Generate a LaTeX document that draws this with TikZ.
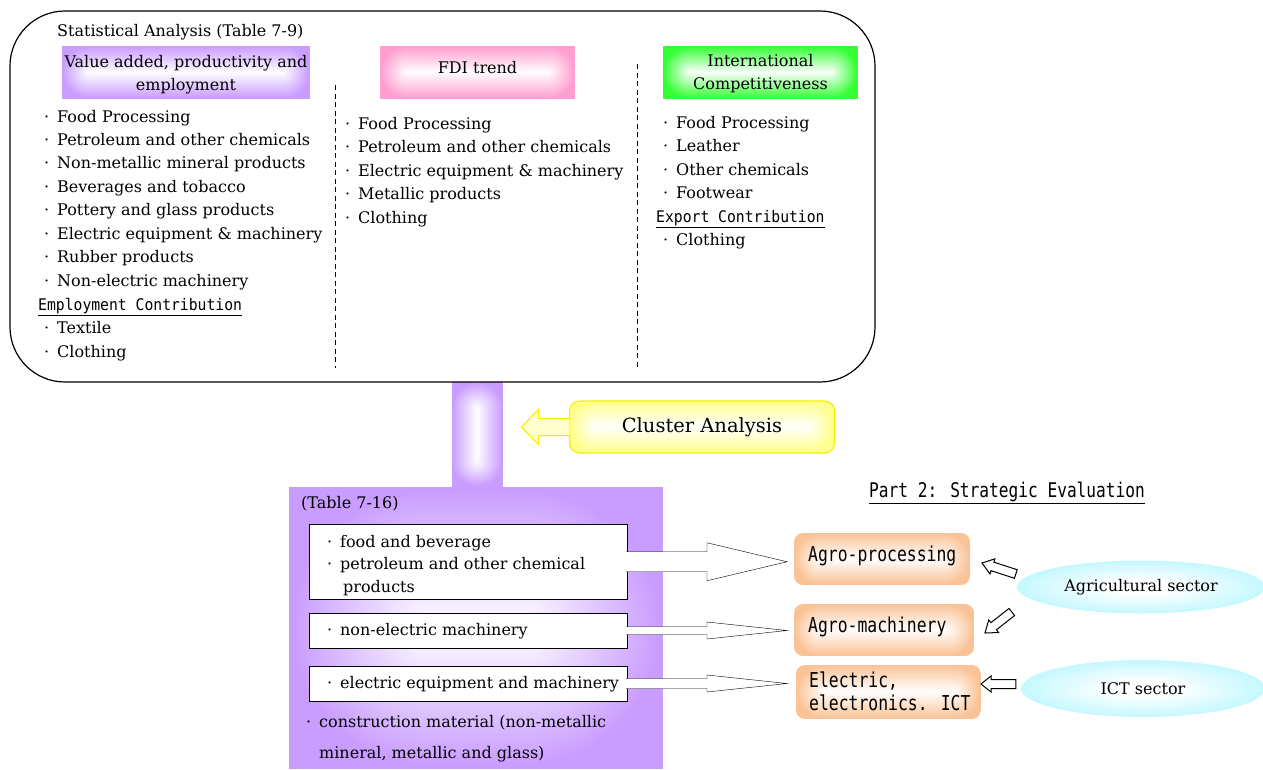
\documentclass[tikz,border=0pt]{standalone}
\usepackage{fontspec}
\setmainfont{DejaVu Serif}
\usetikzlibrary{calc,shapes.geometric}
\newfontfamily\gothn{DejaVu Sans Mono}[FakeStretch=0.8]
\newfontfamily\gothw{DejaVu Sans Mono}[FakeStretch=0.92]
\definecolor{lav}{HTML}{C99CFF}
\definecolor{pinkc}{HTML}{FF9ED0}
\definecolor{greenc}{HTML}{33FF33}
\definecolor{yelc}{HTML}{FFFF8C}
\definecolor{yelline}{HTML}{F5F000}
\definecolor{tanc}{HTML}{FAC396}
\definecolor{skyc}{HTML}{C4F8FF}
\colorlet{glowc}{white}
\pgfdeclarelayer{bg}
\pgfsetlayers{bg,main}
% radial glow for the ellipses: white centre fading to the fill colour
\pgfdeclareradialshading[glowc]{glow}{\pgfpoint{0bp}{0bp}}%
  {color(0bp)=(white); color(6bp)=(white); color(25bp)=(glowc); color(50bp)=(glowc)}
% "from centre" gradient behind a node: [clip options]{node}{colour}
% nested rounded rectangles fading from the colour at the rim to white at the middle
\newcommand\rectglow[3][]{%
  \begin{pgfonlayer}{bg}
  \begin{scope}
    \path[clip,#1] (#2.south west) rectangle (#2.north east);
    \fill[#3] (#2.south west) rectangle (#2.north east);
    \path let \p1=(#2.south west), \p2=(#2.north east) in
      \pgfextra{\pgfmathsetmacro\glowhalf{min(\x2-\x1,\y2-\y1)/2}\global\let\glowhalf\glowhalf};
    \foreach \k in {1,...,39} {
      \pgfmathsetmacro\ins{\glowhalf*\k/40}
      \pgfmathsetmacro\rad{max(\glowhalf-\ins-0.02,0.02)}
      \pgfmathsetmacro\pct{100-2.5*\k}
      \fill[#3!\pct!white, rounded corners=\rad pt] ($(#2.south west)+(\ins pt,\ins pt)$)
        rectangle ($(#2.north east)+(-\ins pt,-\ins pt)$);
    }
  \end{scope}
  \end{pgfonlayer}}
% small centred dot in front of each list entry
\newcommand\bul{\llap{\textperiodcentered\hspace{8pt}}}
% closed block arrow: [style]{from}{to}{body half width}{head half width}{head length}
\newcommand\blockarrow[6][]{%
  \coordinate (bah) at ($(#3)!#6!(#2)$);
  \draw[line join=miter,#1] ($(#2)!#4!90:(#3)$) -- ($(bah)!#4!90:(#3)$) -- ($(bah)!#5!90:(#3)$)
    -- (#3) -- ($(bah)!#5!-90:(#3)$) -- ($(bah)!#4!-90:(#3)$) -- ($(#2)!#4!-90:(#3)$) -- cycle;}
% block arrow growing out of a box edge (no outline on the tail side)
\newcommand\openarrow[6][]{%
  \coordinate (bah) at ($(#3)!#6!(#2)$);
  \fill[white,#1] ($(#2)!#4!90:(#3)$) -- ($(bah)!#4!90:(#3)$) -- ($(bah)!#5!90:(#3)$)
    -- (#3) -- ($(bah)!#5!-90:(#3)$) -- ($(bah)!#4!-90:(#3)$) -- ($(#2)!#4!-90:(#3)$) -- cycle;
  \draw[line join=miter,#1] ($(#2)!#4!90:(#3)$) -- ($(bah)!#4!90:(#3)$) -- ($(bah)!#5!90:(#3)$)
    -- (#3) -- ($(bah)!#5!-90:(#3)$) -- ($(bah)!#4!-90:(#3)$) -- ($(#2)!#4!-90:(#3)$);}
\begin{document}
\begin{tikzpicture}[x=1pt,y=-1pt,
  glow/.style={shade, shading=glow, /utils/exec={\colorlet{glowc}{#1}}},
  txt/.style={font=\fontsize{16}{23}\selectfont, inner sep=0pt, anchor=base west},
  gw/.style={font=\gothw\fontsize{16}{20}\selectfont, inner sep=0pt, anchor=base west},
  gn/.style={font=\gothn\fontsize{20.5}{23}\selectfont, inner sep=0pt, anchor=base west},
  hdr/.style={minimum height=53pt, inner sep=0pt, outer sep=0pt},
  hdrtxt/.style={inner sep=0pt, align=center, font=\fontsize{16}{23}\selectfont},
  whitebox/.style={draw, fill=white, line width=1pt, anchor=north west, inner sep=0pt,
    minimum width=317.5pt, outer sep=0pt},
  tanbox/.style={anchor=north west, inner sep=0pt, outer sep=0pt, minimum height=52pt},
  sky/.style={ellipse, glow=skyc, inner sep=0pt, font=\fontsize{16}{23}\selectfont},
  divider/.style={dash pattern=on 5pt off 3.5pt, line width=0.8pt}]
\useasboundingbox (0,0) rectangle (1263,769);

% link between the two analysis stages
\node[minimum width=51.5pt, minimum height=105pt,
  anchor=north west, inner sep=0pt, outer sep=0pt] (link) at (451.5,382) {};
\rectglow{link}{lav}

% statistical analysis panel
\node[draw, line width=1.2pt, rounded corners=55pt, minimum width=865pt, minimum height=371pt,
  anchor=north west, inner sep=0pt, outer sep=0pt] (stat) at (10,11) {};
\node[txt] (stitle) at (57,36) {Statistical Analysis (Table 7-9)};
\node[hdr, minimum width=248pt] (vab) at (186,72.5) {};
\node[hdr, minimum width=195pt] (fdi) at (477.5,72.5) {};
\node[hdr, minimum width=195pt] (ic) at (760.5,72.5) {};
\rectglow{vab}{lav}
\rectglow{fdi}{pinkc}
\rectglow{ic}{greenc}
\node[hdrtxt, yshift=-2.5pt] (vabt) at (vab.center) {Value added, productivity and\\employment};
\node[hdrtxt, yshift=5pt] (fdit) at (fdi.center) {FDI trend};
\node[hdrtxt, yshift=-1.5pt] (ict1) at (ic.center) {International\\Competitiveness};
\draw[divider] (335,85) -- (335,368);
\draw[divider] (637,64) -- (637,368);

\foreach \t [count=\i] in {Food Processing, Petroleum and other chemicals,
  Non-metallic mineral products, Beverages and tobacco, Pottery and glass products,
  Electric equipment \& machinery, Rubber products, Non-electric machinery}
  \node[txt] (ca\i) at (57,{122+23.45*(\i-1)}) {\bul\t};
\node[gw] (empc) at (38,310) {\underline{Employment Contribution}};
\node[txt] (ca9) at (57,333.5) {\bul Textile};
\node[txt] (ca10) at (57,357) {\bul Clothing};

\foreach \t [count=\i] in {Food Processing, Petroleum and other chemicals,
  Electric equipment \& machinery, Metallic products, Clothing}
  \node[txt] (cb\i) at (358,{129+23.5*(\i-1)}) {\bul\t};

\foreach \t [count=\i] in {Food Processing, Leather, Other chemicals, Footwear}
  \node[txt] (cc\i) at (676,{128+23.5*(\i-1)}) {\bul\t};
\node[gw] (expc) at (656,222) {\underline{Export Contribution}};
\node[txt] (cc5) at (676,245.5) {\bul Clothing};

% cluster analysis feeding the link
\node[draw=yelline, line width=1.2pt, rounded corners=10pt,
  minimum width=265pt, minimum height=52pt, inner sep=0pt, outer sep=0pt,
  font=\fontsize{19.5}{25}\selectfont] (clu) at (702,427) {Cluster Analysis};
\rectglow[rounded corners=10pt]{clu}{yelc}
\coordinate (cluTip) at ($(clu.west)+(-48,0)$);
\openarrow[draw=yelline, fill=yelc!45, line width=1pt]{clu.west}{cluTip}{8.5pt}{17.5pt}{17pt}

% cluster result panel
\node[minimum width=374pt, minimum height=282pt,
  anchor=north west, inner sep=0pt, outer sep=0pt] (res) at (289,487) {};
\rectglow{res}{lav}
\node[txt] (rtitle) at (301,508) {(Table 7-16)};
\node[whitebox, minimum height=75.5pt] (bxa) at (309.5,524) {};
\node[whitebox, minimum height=35pt] (bxb) at (309.5,613) {};
\node[whitebox, minimum height=35pt] (bxc) at (309.5,666) {};
\node[txt] (ra1) at (340,547) {\bul food and beverage};
\node[txt] (ra2) at (340,569) {\bul petroleum and other chemical};
\node[txt] (ra3) at (343,592) {products};
\node[txt] (rb1) at (340,635) {\bul non-electric machinery};
\node[txt] (rc1) at (340,688) {\bul electric equipment and machinery};
\node[txt] (rd1) at (319,727) {\bul construction material (non-metallic};
\node[txt] (rd2) at (319,758) {mineral, metallic and glass)};

% strategic evaluation
\node[gn, font=\gothn\fontsize{20.2}{23}\selectfont] (part2) at (869,497) {\underline{Part 2: Strategic Evaluation}};
\node[tanbox, minimum width=176pt] (agp) at (794,533) {};
\node[tanbox, minimum width=180pt] (agm) at (794,604) {};
\node[tanbox, minimum width=185pt, minimum height=54pt] (elec) at (796,665) {};
\rectglow[rounded corners=9pt]{agp}{tanc}
\rectglow[rounded corners=9pt]{agm}{tanc}
\rectglow[rounded corners=9pt]{elec}{tanc}
\node[gn] (agpt) at (808,561) {Agro-processing};
\node[gn] (agmt) at (808,632) {Agro-machinery};
\node[gn] (elt1) at (809,687) {Electric,};
\node[gn] (elt2) at (809,710) {electronics. ICT};

\node[sky, minimum width=248pt, minimum height=53pt] (agri) at (1141,587) {Agricultural sector};
\node[sky, minimum width=244pt, minimum height=57pt] (ict) at (1143,688.5) {ICT sector};

% sector arrows
\coordinate (sA) at ($(bxa.east)+(-0.8,0)$);
\coordinate (sB) at ($(bxb.east)+(-0.8,0)$);
\coordinate (sC) at ($(bxc.east)+(-0.8,0)$);
\coordinate (tA) at ($(bxa.east -| agp.west)+(-7,0)$);
\coordinate (tB) at ($(bxb.east -| agm.west)+(-7,0)$);
\coordinate (tC) at ($(bxc.east -| elec.west)+(-9,0)$);
\openarrow{sA}{tA}{10pt}{19pt}{80pt}
\openarrow{sB}{tB}{4pt}{8.5pt}{80pt}
\openarrow{sC}{tC}{5pt}{8.5pt}{80pt}

\coordinate (q1) at ($(agri.west)+(-1,-13)$);
\coordinate (p1) at ($(agp.east)+(12,4)$);
\coordinate (q2) at ($(agri.west)+(-5,25)$);
\coordinate (p2) at ($(agm.east)+(11,3)$);
\coordinate (q3) at ($(ict.west)+(-5,-4.5)$);
\coordinate (p3) at ($(elec.east)+(0,-8)$);
\blockarrow[fill=white, line width=1pt]{q1}{p1}{4.5pt}{8pt}{11pt}
\blockarrow[fill=white, line width=1pt]{q2}{p2}{4.5pt}{8pt}{11pt}
\blockarrow[fill=white, line width=1pt]{q3}{p3}{4.5pt}{8pt}{10pt}
\end{tikzpicture}
\end{document}
